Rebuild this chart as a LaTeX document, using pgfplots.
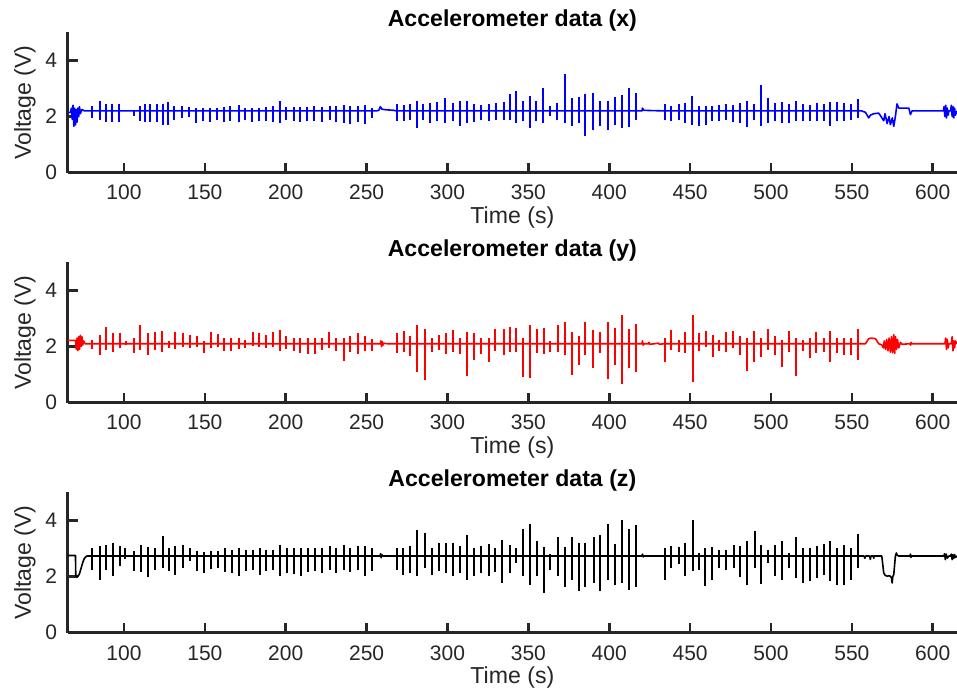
\documentclass[border=0pt]{standalone}
\usepackage{fontspec}
\setmainfont{Liberation Sans}
\usepackage{pgfplots}
\usepackage{pgfplotstable}
\pgfplotsset{compat=1.18}
\definecolor{axgray}{gray}{0.15}

\pgfplotstableread{
t hi lo
80.2 2.37 1.95
85.0 2.55 1.89
89.1 2.45 1.81
92.6 2.45 1.81
96.7 2.45 1.81
106.0 2.25 2.01
109.7 2.37 1.83
113.2 2.45 1.81
116.3 2.45 1.81
120.4 2.43 1.81
123.9 2.45 1.71
127.2 2.52 1.69
131.1 2.37 1.89
135.9 2.37 1.95
140.0 2.33 1.97
144.7 2.31 1.77
148.9 2.31 1.83
153.0 2.31 1.81
157.5 2.31 1.89
161.6 2.33 1.81
165.8 2.37 1.83
170.9 2.40 1.81
175.0 2.31 1.89
179.2 2.31 1.81
183.3 2.31 1.83
188.0 2.33 1.83
192.1 2.37 1.81
196.3 2.55 1.77
200.4 2.33 1.89
204.9 2.33 1.83
209.0 2.33 1.81
213.2 2.33 1.83
217.7 2.37 1.83
222.4 2.33 1.81
227.2 2.37 1.89
231.3 2.37 1.81
235.8 2.40 1.77
240.0 2.37 1.73
244.5 2.37 1.81
248.8 2.40 1.73
253.4 2.31 1.95
268.8 2.43 1.85
272.9 2.40 1.83
277.1 2.45 1.89
281.2 2.55 1.59
284.9 2.43 1.89
289.4 2.49 1.77
293.5 2.52 1.83
298.7 2.67 1.77
303.4 2.49 1.83
308.0 2.55 1.65
312.1 2.55 1.77
316.6 2.45 1.81
320.7 2.40 1.89
325.5 2.43 1.85
330.2 2.49 1.89
334.8 2.52 1.89
338.9 2.79 1.89
342.4 2.90 1.77
346.5 2.57 1.83
350.8 2.73 1.59
355.0 2.55 1.83
359.2 3.02 1.77
363.6 2.37 2.01
368.0 2.49 1.89
372.5 3.53 1.77
376.8 2.67 1.65
381.1 2.69 1.77
385.2 2.81 1.29
390.0 2.84 1.53
394.5 2.55 1.65
399.1 2.57 1.53
403.4 2.69 1.71
407.9 2.76 1.59
412.0 3.02 1.61
416.6 2.84 1.89
434.5 2.45 1.89
438.4 2.37 1.83
443.0 2.45 1.89
447.1 2.49 1.77
451.4 2.73 1.71
455.5 2.37 1.65
459.9 2.37 1.71
463.8 2.37 1.83
468.1 2.40 1.83
472.2 2.45 1.89
476.5 2.40 1.81
481.1 2.49 1.77
485.2 2.57 1.61
489.3 2.45 1.89
493.8 3.12 1.65
498.2 2.67 1.77
502.7 2.49 1.83
506.8 2.52 1.77
511.0 2.45 1.77
515.3 2.57 1.83
519.6 2.45 1.83
523.9 2.40 1.83
528.5 2.49 1.85
532.6 2.45 1.83
536.7 2.52 1.65
540.9 2.52 1.85
545.4 2.49 1.83
549.7 2.43 1.89
553.8 2.61 1.95
}\spx

\pgfplotstableread{
t hi lo
80.2 2.24 1.91
85.0 2.42 1.70
89.1 2.71 1.88
93.2 2.47 1.82
97.3 2.47 1.94
101.5 2.18 2.06
106.0 2.30 1.76
110.1 2.77 1.88
114.6 2.47 1.70
119.0 2.53 1.88
123.5 2.56 1.82
127.6 2.18 1.94
131.8 2.53 1.91
136.5 2.47 2.00
141.0 2.42 1.94
145.2 2.36 2.00
149.3 2.18 1.76
153.8 2.51 1.96
157.9 2.44 2.00
162.1 2.30 1.84
166.2 2.32 1.84
170.9 2.30 1.91
175.0 2.24 1.94
179.8 2.53 2.03
183.3 2.47 2.00
188.0 2.42 1.96
192.1 2.53 2.00
196.3 2.59 1.84
200.4 2.36 1.91
204.9 2.30 1.84
209.0 2.30 1.76
213.6 2.30 1.72
218.3 2.30 1.72
222.4 2.30 1.88
227.0 2.53 1.94
231.3 2.30 1.84
235.8 2.30 1.48
240.0 2.36 1.82
244.5 2.47 1.72
248.8 2.36 1.84
253.4 2.27 1.84
268.8 2.47 1.76
272.9 2.56 1.79
277.1 2.36 1.67
281.2 2.77 1.08
286.3 2.63 0.80
290.5 2.30 1.82
294.6 2.42 1.88
299.3 2.47 1.72
303.4 2.59 1.82
308.0 2.30 1.72
312.1 2.53 0.96
316.6 2.47 1.52
320.7 2.30 1.72
325.5 2.30 1.46
329.6 2.63 1.84
334.8 2.63 1.70
338.9 2.68 1.82
342.4 2.65 1.82
346.5 2.30 0.92
351.2 2.77 0.89
355.4 2.63 1.76
359.5 2.65 1.72
363.6 2.18 1.82
368.1 2.77 1.79
372.5 2.87 1.70
377.0 2.51 1.00
381.1 2.36 1.34
385.2 2.89 1.70
389.8 2.59 1.24
394.5 2.53 1.76
399.1 2.87 0.86
403.4 2.65 1.34
407.9 3.11 0.68
412.0 2.63 1.22
416.6 2.82 1.10
434.3 2.30 1.46
438.4 2.59 1.88
443.0 2.24 1.79
447.1 2.53 1.76
451.6 3.11 0.74
455.7 2.47 1.84
459.9 2.56 2.00
464.0 2.42 1.64
468.1 2.24 1.84
472.2 2.53 1.82
476.3 2.56 1.94
481.1 2.36 1.70
485.2 2.30 1.13
489.3 2.56 1.46
494.1 2.30 1.64
498.2 2.63 1.88
502.7 2.36 1.70
506.8 2.24 1.28
511.0 2.56 1.82
515.5 2.30 0.96
519.6 2.24 1.84
523.9 2.30 1.58
528.1 2.53 1.76
532.6 2.30 1.82
536.7 2.56 1.44
540.9 2.30 1.76
545.4 2.30 1.70
549.7 2.30 1.70
553.8 2.63 1.52
}\spy

\pgfplotstableread{
t hi lo
80.2 3.02 2.25
85.0 3.08 1.89
89.1 3.12 2.25
93.2 3.20 2.01
97.3 3.08 2.37
100.8 3.02 2.61
106.0 2.90 2.19
110.5 3.12 2.16
114.6 3.05 1.97
119.0 3.02 2.25
123.9 3.44 2.31
127.6 3.02 2.19
131.8 3.08 2.07
136.5 3.14 2.31
141.0 3.02 2.55
145.2 2.90 2.19
149.3 2.88 2.13
153.8 2.90 2.28
157.9 2.90 2.31
162.7 3.02 2.16
166.8 2.93 2.13
170.9 3.02 2.01
175.7 2.93 2.19
179.8 2.96 2.25
183.9 3.02 2.07
188.0 2.93 2.19
192.1 2.96 2.25
196.7 3.14 2.01
200.8 3.02 2.13
205.3 3.02 2.09
209.5 3.02 2.01
213.6 3.02 2.16
218.3 3.02 2.19
222.4 3.02 2.13
227.2 3.08 2.25
231.3 3.02 2.13
235.8 3.14 2.25
240.0 3.02 2.16
244.5 3.08 2.25
248.8 3.08 2.01
253.4 3.02 2.19
268.8 3.02 2.25
272.5 3.02 2.07
277.1 3.08 2.13
281.2 3.65 2.01
286.3 3.56 2.31
290.5 3.02 2.04
294.6 3.20 2.19
299.3 3.20 2.13
303.4 3.20 2.01
308.0 3.08 2.13
312.1 3.48 1.89
316.6 3.02 2.01
320.7 3.08 2.13
325.5 3.17 2.01
329.6 3.02 2.16
333.7 3.29 1.77
338.9 3.14 2.13
342.4 3.02 2.49
346.5 3.68 2.01
351.2 3.88 1.69
355.4 3.26 2.01
359.5 3.05 1.41
363.6 2.79 2.25
368.1 3.41 2.01
372.5 3.05 1.61
377.0 3.41 1.89
381.1 3.20 1.47
385.2 3.20 1.61
390.4 3.41 1.77
394.5 3.48 1.49
399.1 3.86 1.89
403.4 3.17 1.71
407.9 4.00 1.77
412.0 3.68 1.53
416.6 3.84 1.61
434.3 3.02 1.89
438.4 3.08 2.31
443.0 3.05 2.43
447.1 3.20 2.01
451.6 4.00 2.19
455.3 2.84 2.25
459.0 3.02 1.65
463.6 3.05 1.89
468.1 2.96 2.31
472.2 2.96 2.25
476.9 3.14 2.31
481.1 3.08 1.97
485.2 3.26 1.71
489.9 3.62 2.31
494.1 3.14 1.73
498.2 2.96 2.49
502.7 3.14 2.01
506.8 3.26 1.89
511.0 2.84 2.31
515.5 3.41 1.95
519.6 3.02 1.77
523.9 3.02 1.85
528.5 3.08 1.95
532.6 3.17 2.07
536.7 3.26 1.85
540.9 3.02 1.71
545.4 3.12 1.69
549.7 3.02 1.89
553.8 3.53 2.31
}\spz

\pgfplotsset{
  accstyle/.style={
    scale only axis, width=444.65bp, height=70.2bp,
    xmin=65.2, xmax=615, ymin=0, ymax=5,
    axis lines*=left,
    axis line style={line width=1.3bp, draw=axgray},
    tick align=inside, major tick length=5bp,
    tick style={line width=1.3bp, draw=axgray},
    xtick={100,150,200,250,300,350,400,450,500,550,600},
    ytick={0,2,4},
    /pgf/number format/assume math mode=true,
    ticklabel style={font=\fontsize{10.5bp}{12bp}\selectfont, text=axgray},
    xticklabel style={anchor=base, inner sep=0pt, yshift=-13.65bp},
    yticklabel style={anchor=east, inner sep=0pt, xshift=-5.1bp},
    xlabel={Time (s)}, ylabel={Voltage (V)},
    label style={font=\fontsize{11.55bp}{13bp}\selectfont, text=axgray},
    xlabel style={at={(axis description cs:0.5,0)}, anchor=base, inner sep=0pt, yshift=-25.6bp},
    ylabel style={at={(axis description cs:-0.04127,0.5)}, anchor=base, inner sep=0pt},
    title style={font=\fontsize{11.55bp}{13bp}\selectfont\bfseries, at={(axis description cs:0.5,1)}, anchor=base, inner sep=0pt, yshift=-3.3bp},
  },
  spikes/.style={draw=none, mark=none,
    error bars/.cd, y dir=minus, y explicit, error mark=none,
    error bar style={draw=#1, line width=1bp}},
}

\begin{document}
\begin{tikzpicture}
\useasboundingbox (0,0) rectangle (478.5bp,346bp);

\begin{axis}[accstyle, at={(33.85bp,259.65bp)}, anchor=south west, title={Accelerometer data (x)}]
\addplot[blue, line width=0.8bp, line join=round] coordinates {(65.2,2.15)(67,2.15)(67.5,2.3)(68,1.9)(68.5,2.4)(69,1.65)(69.5,2.3)(70,1.7)(70.5,2.25)(71,1.8)(71.5,2.3)(72,2.0)(72.5,2.35)(73,2.1)(74,2.25)(75.5,2.2)(256,2.2)(257.5,2.22)(258.5,2.35)(259.5,2.26)(262,2.24)(267,2.22)(268,2.2)(420.3,2.2)(420.5,2.3)(421.5,2.22)(434,2.2)(556,2.2)(558.4,2.15)(560.4,1.95)(561.5,2.05)(563.5,2.1)(566.6,2.12)(568,2.0)(569.7,1.85)(570.5,2.1)(571.8,1.75)(573,2.0)(573.8,1.71)(575,1.95)(575.9,1.65)(576.9,2.0)(577.9,2.45)(579,2.3)(585.2,2.3)(586.2,2.07)(587.2,2.2)(606.5,2.2)(607,2.35)(607.5,2.0)(608,2.4)(608.5,1.95)(609,2.3)(609.5,2.05)(610,2.2)(611,2.2)(611.5,2.4)(612,2.0)(612.5,2.35)(613,1.95)(613.5,2.3)(614,2.05)(615,2.2)};
\addplot[spikes=blue] table[x=t, y=hi, y error minus expr=\thisrow{hi}-\thisrow{lo}] {\spx};
\end{axis}

\begin{axis}[accstyle, at={(33.85bp,144.65bp)}, anchor=south west, title={Accelerometer data (y)}]
\addplot[red, line width=0.8bp, line join=round] coordinates {(65.2,2.22)(70,2.22)(70.5,1.9)(71,2.3)(71.5,1.85)(72,2.35)(72.5,1.9)(73,2.4)(73.5,2.0)(74,2.35)(74.5,2.05)(75,2.2)(76,2.1)(256,2.1)(258.5,2.1)(258.8,2.2)(259.2,2.0)(259.6,2.18)(260,2.04)(260.5,2.12)(262.6,2.1)(420.3,2.1)(420.5,2.2)(421,2.05)(421.5,2.1)(424.4,2.1)(424.6,2.15)(425,2.08)(428,2.1)(430.5,2.12)(431,2.08)(434,2.1)(556,2.1)(558.4,2.1)(560.4,2.28)(562,2.3)(564.6,2.28)(566.6,2.1)(568.7,2.05)(569.5,1.95)(570,2.2)(570.8,1.9)(571.5,2.25)(572.3,1.85)(573,2.3)(573.8,1.8)(574.5,2.35)(575.2,1.78)(575.9,2.42)(576.5,1.76)(577,2.35)(577.6,1.9)(578.2,2.25)(579,1.95)(580,2.15)(581,2.08)(586,2.1)(586.3,2.05)(586.6,2.15)(587,2.1)(607.5,2.1)(608,2.3)(608.5,1.9)(609,2.25)(609.5,1.95)(610,2.1)(611.5,2.1)(612,2.35)(612.5,1.85)(613,2.2)(613.5,1.95)(614,2.2)(615,2.1)};
\addplot[spikes=red] table[x=t, y=hi, y error minus expr=\thisrow{hi}-\thisrow{lo}] {\spy};
\end{axis}

\begin{axis}[accstyle, at={(33.85bp,29.65bp)}, anchor=south west, title={Accelerometer data (z)}]
\addplot[black, line width=0.8bp, line join=round] coordinates {(65.2,2.75)(70,2.75)(70.2,2.0)(71.5,2.0)(72.5,2.1)(73.5,2.3)(74.5,2.5)(75.5,2.65)(77,2.73)(256,2.73)(258.3,2.73)(258.6,2.81)(259,2.67)(259.4,2.78)(260,2.73)(420.3,2.73)(420.5,2.8)(421,2.7)(421.5,2.73)(434,2.73)(556,2.73)(557.5,2.73)(558,2.65)(558.5,2.73)(561,2.73)(561.4,2.61)(561.8,2.73)(563.3,2.73)(563.5,2.65)(563.8,2.73)(568.5,2.73)(569.7,2.13)(570.5,2.05)(571.8,2.01)(573,2.03)(573.8,2.01)(574.5,1.95)(574.9,1.77)(575.3,2.0)(575.9,2.07)(576.9,2.73)(577.5,2.84)(578.2,2.75)(579,2.73)(586,2.73)(586.2,2.8)(586.5,2.68)(586.8,2.73)(606.8,2.73)(607.3,2.81)(607.8,2.6)(608.3,2.8)(609,2.66)(610,2.73)(611,2.73)(611.5,2.8)(612,2.6)(612.5,2.78)(613,2.65)(613.5,2.78)(614,2.68)(615,2.73)};
\addplot[spikes=black] table[x=t, y=hi, y error minus expr=\thisrow{hi}-\thisrow{lo}] {\spz};
\end{axis}
\end{tikzpicture}
\end{document}
